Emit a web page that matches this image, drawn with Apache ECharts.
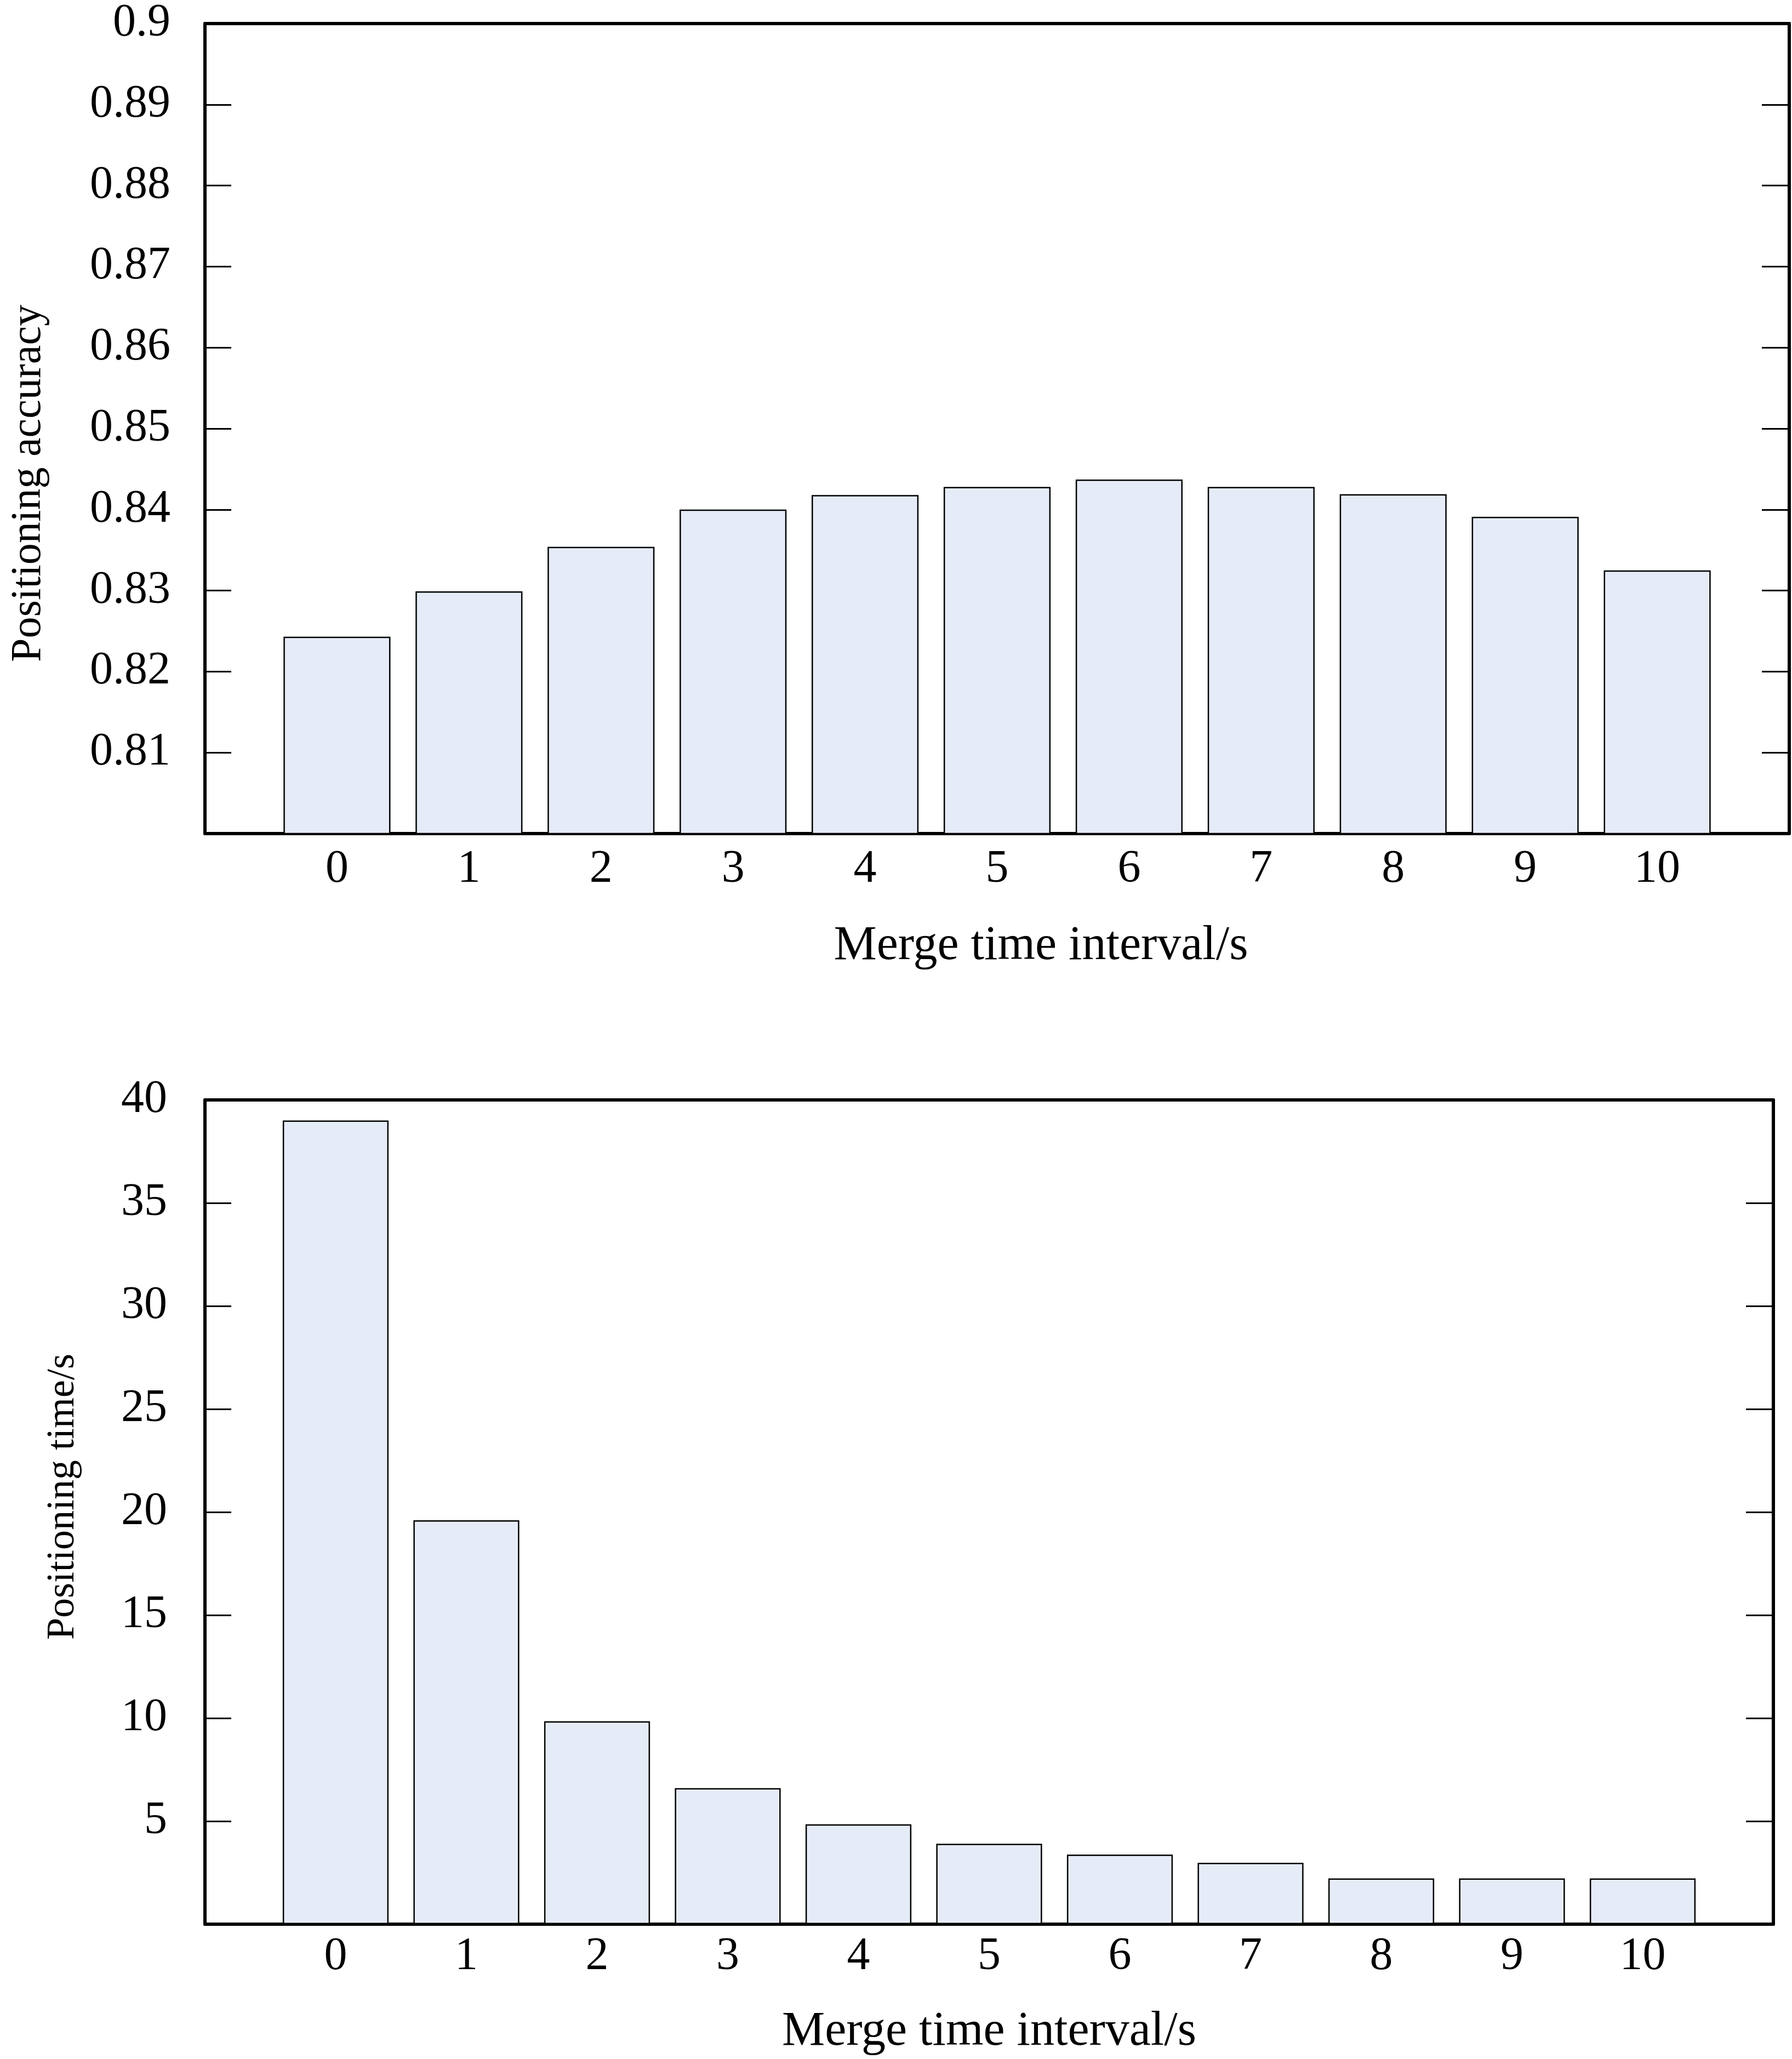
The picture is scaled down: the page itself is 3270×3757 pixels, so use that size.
<!DOCTYPE html>
<html><head><meta charset="utf-8">
<script src="https://cdn.jsdelivr.net/npm/echarts@6/dist/echarts.min.js"></script>
<style>html,body{margin:0;padding:0;background:#fff}#c{width:3270px;height:3757px}</style>
</head><body><div id="c"></div>
<script>
// ---- data ----
const intervals = [0, 1, 2, 3, 4, 5, 6, 7, 8, 9, 10];
const accuracy = [0.8243, 0.8299, 0.8354, 0.8400, 0.8418, 0.8428, 0.8437, 0.8428, 0.8419, 0.8391, 0.8325];
const posTime = [39.0, 19.6, 9.85, 6.6, 4.85, 3.9, 3.38, 2.98, 2.22, 2.22, 2.22];
const accAxis = { min: 0.8, max: 0.9, interval: 0.01 };
const timeAxis = { min: 0, max: 40, interval: 5 };
const xTitle = 'Merge time interval/s';
const yTitleTop = 'Positioning accuracy';
const yTitleBottom = 'Positioning time/s';

const FONT = "'Liberation Serif', 'Times New Roman', serif";
const chart = echarts.init(document.getElementById('c'), null, { renderer: 'canvas' });

function xAxes(gridIndex, gap, pad, labelMargin) {
  return [{
    type: 'value', gridIndex, min: -1, max: 11, interval: 1, position: 'bottom',
    axisLine: { show: true, onZero: false, lineStyle: { color: '#000', width: 6 } },
    axisTick: { show: false }, splitLine: { show: false },
    axisLabel: { margin: labelMargin, color: '#000', fontFamily: FONT, fontSize: 84,
      formatter: v => (v >= 0 && v <= 10) ? String(v) : '' },
    name: xTitle, nameLocation: 'middle', nameGap: gap,
    nameTextStyle: { color: '#000', fontFamily: FONT, fontSize: 88, padding: pad }
  }, {
    type: 'value', gridIndex, min: -1, max: 11, position: 'top',
    axisLine: { show: true, onZero: false, lineStyle: { color: '#000', width: 6 } },
    axisTick: { show: false }, axisLabel: { show: false }, splitLine: { show: false }
  }];
}
function yAxes(gridIndex, cfg, fmt, name, gap, size, pad, labelMargin) {
  return [{
    type: 'value', gridIndex, min: cfg.min, max: cfg.max, interval: cfg.interval, position: 'left',
    axisLine: { show: true, onZero: false, lineStyle: { color: '#000', width: 6 } },
    axisTick: { show: true, inside: true, length: 48, lineStyle: { color: '#000', width: 3 } },
    splitLine: { show: false },
    axisLabel: { margin: labelMargin, color: '#000', fontFamily: FONT, fontSize: 84, formatter: fmt },
    name, nameLocation: 'middle', nameGap: gap, nameRotate: 90,
    nameTextStyle: { color: '#000', fontFamily: FONT, fontSize: size, padding: pad }
  }, {
    type: 'value', gridIndex, min: cfg.min, max: cfg.max, interval: cfg.interval, position: 'right',
    axisLine: { show: true, onZero: false, lineStyle: { color: '#000', width: 6 } },
    axisTick: { show: true, inside: true, length: 50, lineStyle: { color: '#000', width: 3 } },
    axisLabel: { show: false }, splitLine: { show: false }
  }];
}

const barStyle = { color: '#E6ECF7', borderColor: '#000', borderWidth: 2.5 };

chart.setOption({
  backgroundColor: '#fff',
  animation: false,
  grid: [
    { left: 374, top: 43, right: 5, height: 1478 },
    { left: 374, top: 2007, right: 34, height: 1504 }
  ],
  xAxis: [...xAxes(0, 162, [0, 0, 0, 160], 24), ...xAxes(1, 153, [0, 0, 0, 0], 18)],
  yAxis: [
    ...yAxes(0, accAxis, v => v <= accAxis.min + 1e-6 ? '' : String(+v.toFixed(2)), yTitleTop, 282, 78, [0, 200, 0, 0], 63),
    ...yAxes(1, timeAxis, v => v <= timeAxis.min ? '' : String(v), yTitleBottom, 223, 72, [0, 0, 0, 56], 69)
  ],
  series: [
    { type: 'bar', xAxisIndex: 0, yAxisIndex: 0, barWidth: '81%',
      data: intervals.map((x, i) => [x, accuracy[i]]), itemStyle: barStyle },
    { type: 'bar', xAxisIndex: 2, yAxisIndex: 2, barWidth: '81%',
      data: intervals.map((x, i) => [x, posTime[i]]), itemStyle: barStyle }
  ]
});
</script></body></html>
